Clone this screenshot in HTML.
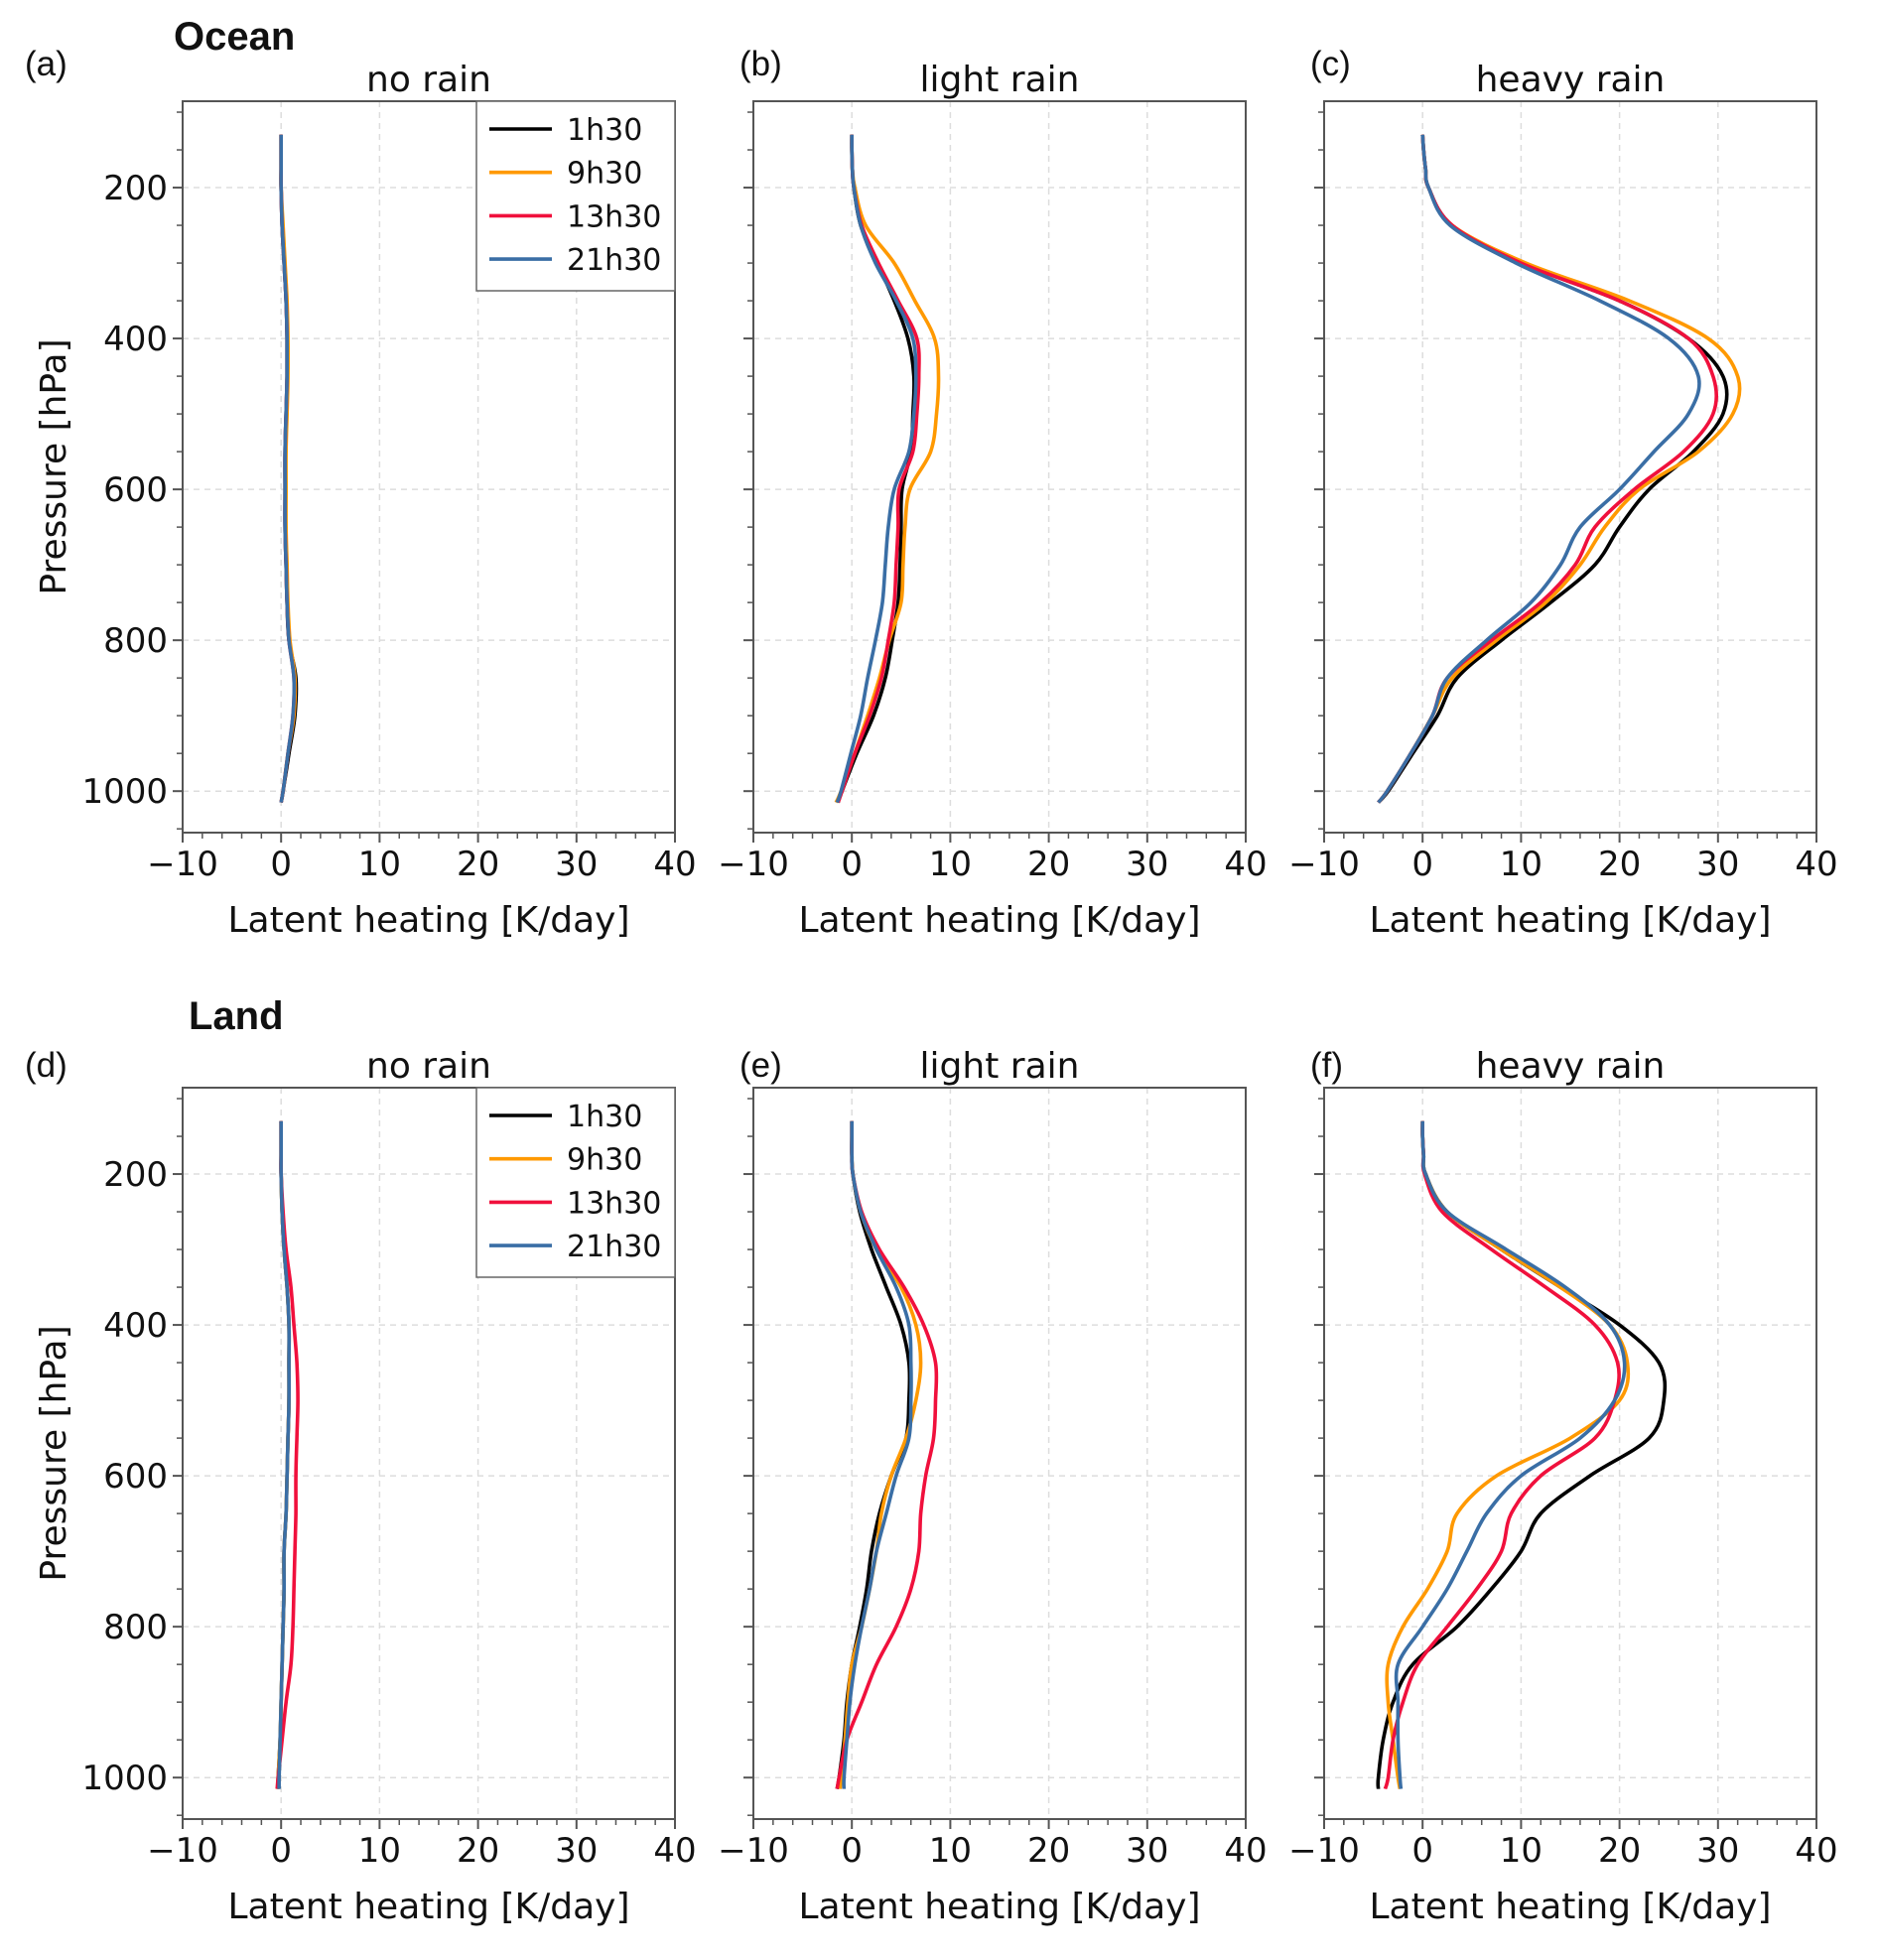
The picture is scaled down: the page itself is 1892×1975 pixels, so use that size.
<!DOCTYPE html>
<html><head><meta charset="utf-8">
<style>
html,body{margin:0;padding:0;background:#fff;}
svg{display:block;}
text{font-family:"DejaVu Sans","Liberation Sans",sans-serif;fill:#111;}
.lbl{font-family:"Liberation Sans",sans-serif;}
</style></head>
<body>
<svg id="fig" width="1892" height="1975" viewBox="0 0 1892 1975" xmlns="http://www.w3.org/2000/svg"></svg>
<script>
// ---- data ----
const pressureLevels = [130,150,175,200,250,300,350,400,450,500,550,600,650,700,750,800,850,900,950,1000,1015];
const seriesNames = ["1h30","9h30","13h30","21h30"];
const seriesColors = ["#000000","#ff9900","#f0103c","#3a6ea5"];
const xTicks = [-10,0,10,20,30,40];
const xTickLabels = ["\u221210","0","10","20","30","40"];
const yTicks = [200,400,600,800,1000];
const yTickLabels = ["200","400","600","800","1000"];
const panelLetters = ["(a)","(b)","(c)","(d)","(e)","(f)"];
const panelTitles = ["no rain","light rain","heavy rain","no rain","light rain","heavy rain"];
const rowTitles = ["Ocean","Land"];

// (a) ocean no rain
const oceanNo1h30  = [0,0,0,0,0.1,0.3,0.5,0.6,0.6,0.5,0.4,0.4,0.4,0.5,0.6,0.8,1.5,1.4,0.8,0.2,0];
const oceanNo9h30  = [0,0,0,0,0.2,0.4,0.6,0.7,0.7,0.6,0.5,0.5,0.5,0.6,0.7,0.9,1.4,1.3,0.7,0.2,0];
const oceanNo13h30 = [0,0,0,0,0.1,0.3,0.5,0.6,0.6,0.5,0.4,0.4,0.4,0.5,0.6,0.8,1.3,1.2,0.7,0.2,0];
const oceanNo21h30 = [0,0,0,0,0.1,0.3,0.5,0.6,0.6,0.5,0.4,0.4,0.4,0.5,0.6,0.8,1.3,1.2,0.7,0.2,0];
// (b) ocean light rain
const oceanLight1h30  = [0,0,0.05,0.2,0.9,2.6,4.3,5.7,6.3,6.2,6.0,5.1,5.0,4.9,4.7,4.1,3.4,2.2,0.5,-1.0,-1.4];
const oceanLight9h30  = [0,0,0.05,0.3,1.4,4.3,6.4,8.4,8.8,8.6,8.0,5.9,5.4,5.2,5.0,3.8,2.8,1.6,0.3,-1.1,-1.6];
const oceanLight13h30 = [0,0,0.05,0.2,1.0,2.7,4.7,6.6,6.8,6.6,6.2,4.8,4.7,4.5,4.3,3.7,3.0,1.8,0.3,-1.0,-1.4];
const oceanLight21h30 = [0,0,0.05,0.2,0.9,2.4,4.5,6.2,6.5,6.3,5.8,4.3,3.7,3.4,3.1,2.4,1.6,0.9,-0.1,-1.1,-1.5];
// (c) ocean heavy rain
const oceanHeavy1h30  = [0,0.1,0.3,0.6,3.0,10.0,20.0,27.0,30.5,30.5,27.5,23.0,20.0,17.5,13.0,8.0,3.5,1.5,-1.0,-3.5,-4.5];
const oceanHeavy9h30  = [0,0.1,0.3,0.6,3.0,10.5,21.0,29.0,32.0,31.5,28.0,22.0,18.5,16.0,12.5,7.5,3.0,1.0,-1.2,-3.6,-4.5];
const oceanHeavy13h30 = [0,0.1,0.3,0.6,3.0,10.0,20.0,27.0,29.5,29.5,26.5,21.5,17.5,15.5,12.0,7.0,2.5,1.0,-1.2,-3.6,-4.5];
const oceanHeavy21h30 = [0,0.1,0.3,0.6,2.8,9.5,18.0,25.0,28.0,27.0,23.5,20.0,16.0,14.0,11.0,6.5,2.5,1.0,-1.2,-3.6,-4.5];
// (d) land no rain
const landNo1h30  = [0,0,0,0,0.1,0.3,0.6,0.8,0.8,0.8,0.7,0.6,0.5,0.3,0.3,0.2,0.1,0,-0.1,-0.3,-0.3];
const landNo9h30  = [0,0,0,0,0.1,0.3,0.6,0.8,0.8,0.8,0.7,0.6,0.5,0.3,0.3,0.2,0.1,0,-0.1,-0.3,-0.3];
const landNo13h30 = [0,0,0,0,0.2,0.5,1.0,1.3,1.6,1.7,1.6,1.5,1.5,1.4,1.3,1.2,1.0,0.5,0.1,-0.3,-0.4];
const landNo21h30 = [0,0,0,0,0.1,0.3,0.6,0.8,0.8,0.8,0.7,0.6,0.5,0.3,0.3,0.2,0.1,0,-0.1,-0.2,-0.2];
// (e) land light rain
const landLight1h30  = [0,0,0,0.1,0.8,2.0,3.5,5.0,5.8,5.8,5.5,4.0,2.8,2.0,1.5,0.8,0.0,-0.5,-0.8,-1.3,-1.5];
const landLight9h30  = [0,0,0,0.1,0.9,2.5,5.0,6.5,7.0,6.5,5.5,4.0,3.0,2.5,1.8,1.0,0.0,-0.4,-0.7,-1.1,-1.2];
const landLight13h30 = [0,0,0,0.1,1.0,2.8,5.3,7.3,8.5,8.5,8.3,7.5,7.0,6.8,6.0,4.5,2.5,1.0,-0.5,-1.3,-1.5];
const landLight21h30 = [0,0,0,0.1,0.9,2.5,4.5,5.8,6.0,6.0,5.8,4.5,3.5,2.5,1.8,1.0,0.3,-0.2,-0.5,-0.8,-0.8];
// (f) land heavy rain
const landHeavy1h30  = [0,0,0.1,0.3,2.5,8.0,14.0,20.0,24.0,24.5,23.0,17.0,12.0,10.0,7.0,3.5,-1.0,-3.0,-4.0,-4.5,-4.5];
const landHeavy9h30  = [0,0,0.1,0.3,2.5,8.0,14.0,19.0,20.8,20.0,15.0,7.5,3.5,2.5,0.5,-2.0,-3.5,-3.5,-3.0,-2.5,-2.3];
const landHeavy13h30 = [0,0,0.1,0.2,2.0,7.0,12.5,17.5,19.8,19.5,17.5,12.0,9.0,8.0,5.5,2.5,-0.5,-2.0,-3.0,-3.5,-3.8];
const landHeavy21h30 = [0,0,0.1,0.3,2.5,8.5,14.5,19.0,20.5,19.5,16.0,10.0,6.5,4.5,2.5,0.0,-2.5,-2.5,-2.5,-2.3,-2.2];

const panelSeries = [
  [oceanNo1h30,oceanNo9h30,oceanNo13h30,oceanNo21h30],
  [oceanLight1h30,oceanLight9h30,oceanLight13h30,oceanLight21h30],
  [oceanHeavy1h30,oceanHeavy9h30,oceanHeavy13h30,oceanHeavy21h30],
  [landNo1h30,landNo9h30,landNo13h30,landNo21h30],
  [landLight1h30,landLight9h30,landLight13h30,landLight21h30],
  [landHeavy1h30,landHeavy9h30,landHeavy13h30,landHeavy21h30]
];

// ---- layout ----
const NS = "http://www.w3.org/2000/svg";
const svg = document.getElementById("fig");
const colLeft = [184, 759, 1334];
const rowTop = [102, 1096];
const AW = 496, AH = 737;
const XMIN = -10, XMAX = 40, PTOP = 85.5, PBOT = 1055;

function mk(tag, attrs, parent){
  const e = document.createElementNS(NS, tag);
  for (const k in attrs) e.setAttribute(k, attrs[k]);
  (parent||svg).appendChild(e);
  return e;
}

// row titles
rowTitles.forEach((t,r)=>{
  const e = mk("text",{x:[175,190][r], y:[50,1037][r], "font-size":40, "font-weight":"bold", class:"lbl"});
  e.textContent = t;
  
  
});

for (let pi=0; pi<6; pi++){
  const r = Math.floor(pi/3), c = pi%3;
  const L = colLeft[c], T = rowTop[r];
  const xs = v => L + (v - XMIN)/(XMAX - XMIN)*AW;
  const ys = p => T + (p - PTOP)/(PBOT - PTOP)*AH;
  const g = mk("g",{});
  
  

  // grid
  xTicks.forEach(v=>{
    if (v===XMIN||v===XMAX) return;
    const ln = mk("line",{x1:xs(v),x2:xs(v),y1:T,y2:T+AH,stroke:"#dddddd","stroke-width":1.5,"stroke-dasharray":"6,5"},g);
    
    
  });
  yTicks.forEach(p=>{
    const ln = mk("line",{x1:L,x2:L+AW,y1:ys(p),y2:ys(p),stroke:"#dddddd","stroke-width":1.5,"stroke-dasharray":"6,5"},g);
    
    
  });

  // series
  panelSeries[pi].forEach((vals,si)=>{
    const pts = vals.map((v,i)=>[xs(v), ys(pressureLevels[i])]);
    let d = "M"+pts[0][0].toFixed(1)+","+pts[0][1].toFixed(1);
    for (let i=0;i<pts.length-1;i++){
      const p0=pts[Math.max(0,i-1)], p1=pts[i], p2=pts[i+1], p3=pts[Math.min(pts.length-1,i+2)];
      const c1=[p1[0]+(p2[0]-p0[0])/6, p1[1]+(p2[1]-p0[1])/6];
      const c2=[p2[0]-(p3[0]-p1[0])/6, p2[1]-(p3[1]-p1[1])/6];
      d += " C"+c1[0].toFixed(1)+","+c1[1].toFixed(1)+" "+c2[0].toFixed(1)+","+c2[1].toFixed(1)+" "+p2[0].toFixed(1)+","+p2[1].toFixed(1);
    }
    const path = mk("path",{d:d,fill:"none",stroke:seriesColors[si],"stroke-width":3.6,"stroke-linejoin":"round"},g);
    
    
  });

  // frame
  const fr = mk("rect",{x:L,y:T,width:AW,height:AH,fill:"none",stroke:"#555","stroke-width":2},g);
  
  

  // x ticks
  for (let v=XMIN; v<=XMAX; v+=2){
    const major = (v%10===0);
    const t = mk("line",{x1:xs(v),x2:xs(v),y1:T+AH,y2:T+AH+(major?10:6),stroke:"#555","stroke-width":major?2:1.5},g);
    
    
  }
  xTicks.forEach((v,i)=>{
    const e = mk("text",{x:xs(v),y:T+AH+43,"font-size":34,"text-anchor":"middle"},g);
    e.textContent = xTickLabels[i];
    
    
  });
  // y ticks
  for (let p=100; p<=1050; p+=50){
    const major = (p%200===0);
    const t = mk("line",{x1:L-(major?10:6),x2:L,y1:ys(p),y2:ys(p),stroke:"#555","stroke-width":major?2:1.5},g);
    
    
  }
  if (c===0){
    yTicks.forEach((p,i)=>{
      const e = mk("text",{x:L-15,y:ys(p)+12,"font-size":34,"text-anchor":"end"},g);
      e.textContent = yTickLabels[i];
      
      
    });
    const yl = mk("text",{x:0,y:0,"font-size":36,"text-anchor":"middle",transform:"translate(66,"+(T+AH/2)+") rotate(-90)"},g);
    yl.textContent = "Pressure [hPa]";
    
    
  }
  const xl = mk("text",{x:L+AW/2,y:T+AH+100,"font-size":36,"text-anchor":"middle"},g);
  xl.textContent = "Latent heating [K/day]";
  
  

  const tt = mk("text",{x:L+AW/2,y:T-10,"font-size":36,"text-anchor":"middle"},g);
  tt.textContent = panelTitles[pi];
  
  

  const lx = c===0 ? L-159 : L-14;
  const lt = mk("text",{x:lx,y:r===0?T-26:T-11,"font-size":35,class:"lbl"},g);
  lt.textContent = panelLetters[pi];
  
  

  // legend
  if (c===0){
    const lg = mk("g",{},g);
    
    
    mk("rect",{x:L+296,y:T,width:200,height:191,fill:"#fff",stroke:"#666","stroke-width":1.5},lg);
    seriesNames.forEach((n,si)=>{
      const yy = T + 28 + si*43.7;
      const ln = mk("line",{x1:L+309,x2:L+372,y1:yy,y2:yy,stroke:seriesColors[si],"stroke-width":3.6},lg);
      
      
      const e = mk("text",{x:L+387,y:yy+11,"font-size":30},lg);
      e.textContent = n;
      
      
    });
  }
}
</script>
</body></html>
